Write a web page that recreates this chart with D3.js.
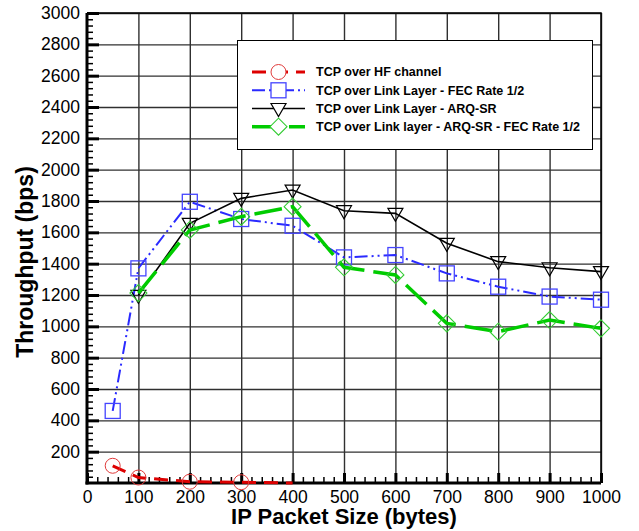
<!DOCTYPE html>
<html><head><meta charset="utf-8">
<script src="https://cdn.jsdelivr.net/npm/d3@7"></script>
<style>body{margin:0;background:#fff}svg{display:block}</style>
</head><body>
<script>
// ---- data ----
const xTickValues = [0,100,200,300,400,500,600,700,800,900,1000];
const yTickValues = [200,400,600,800,1000,1200,1400,1600,1800,2000,2200,2400,2600,2800,3000];
const seriesNames = ["TCP over HF channel","TCP over Link Layer - FEC Rate 1/2","TCP over Link Layer -  ARQ-SR","TCP over Link layer - ARQ-SR - FEC Rate 1/2"];
const hfX = [50,100,200,300,400];
const hfY = [110,35,8,5,0];
const fecX = [50,100,200,300,400,500,600,700,800,900,1000];
const fecY = [460,1370,1795,1685,1642,1440,1455,1338,1253,1190,1170];
const arqX = [100,200,300,400,500,600,700,800,900,1000];
const arqY = [1198,1657,1817,1870,1738,1721,1530,1413,1374,1349];
const arqFecX = [100,200,300,400,500,600,700,800,900,1000];
const arqFecY = [1212,1615,1700,1764,1377,1328,1019,966,1040,987];

const W = 639, H = 531;
const L = 87, R = 601, T = 13, B = 483;
const FONT = "'Liberation Sans', Arial, sans-serif";
const fmt = d3.format("d");

const svg = d3.select("body").append("svg").attr("width", W).attr("height", H)
  .style("font-family", FONT);

const x = d3.scaleLinear().domain([0,1000]).range([L,R]);
const y = d3.scaleLinear().domain([0,3000]).range([B,T]);

// grid
const gx = svg.append("g").attr("transform",`translate(0,${B})`)
  .call(d3.axisBottom(x).tickValues(xTickValues.filter(v=>v>0)).tickSize(-(B-T)).tickFormat(""));
gx.select(".domain").remove();
gx.selectAll(".tick line").attr("stroke","#303030").attr("stroke-width",1.4);
const gy = svg.append("g").attr("transform",`translate(${L},0)`)
  .call(d3.axisLeft(y).tickValues(yTickValues).tickSize(-(R-L)).tickFormat(""));
gy.select(".domain").remove();
gy.selectAll(".tick line").attr("stroke","#303030").attr("stroke-width",1.4);

// frame top/right
svg.append("path").attr("d",`M${L},${T}H${R}V${B}`).attr("fill","none")
  .attr("stroke","#000").attr("stroke-width",1.5);

// minor ticks
const minorX = d3.range(0,1001,20).filter(v=>v%100!==0);
const minorY = d3.range(0,3001,40).filter(v=>v%200!==0);
const mx = svg.append("g").attr("transform",`translate(0,${B})`)
  .call(d3.axisBottom(x).tickValues(minorX).tickSize(-6).tickFormat(""));
mx.select(".domain").remove();
mx.selectAll(".tick line").attr("stroke","#000").attr("stroke-width",1.5);
const my = svg.append("g").attr("transform",`translate(${L},0)`)
  .call(d3.axisLeft(y).tickValues(minorY).tickSize(-6).tickFormat(""));
my.select(".domain").remove();
my.selectAll(".tick line").attr("stroke","#000").attr("stroke-width",1.5);

// major axes
const ax = svg.append("g").attr("transform",`translate(0,${B})`)
  .call(d3.axisBottom(x).tickValues(xTickValues).tickFormat(fmt).tickSizeInner(-10).tickSizeOuter(0).tickPadding(7));
ax.select(".domain").remove();
ax.selectAll(".tick line").attr("stroke","#000").attr("stroke-width",3);
ax.selectAll(".tick text").attr("font-size","17.5px").attr("fill","#000").attr("y",null).attr("dy",null)
  .attr("transform","translate(0,20)");
const ay = svg.append("g").attr("transform",`translate(${L},0)`)
  .call(d3.axisLeft(y).tickValues(yTickValues).tickFormat(fmt).tickSizeInner(-12).tickSizeOuter(0).tickPadding(7));
ay.select(".domain").remove();
ay.selectAll(".tick line").attr("stroke","#000").attr("stroke-width",3);
ay.selectAll(".tick text").attr("font-size","17.5px").attr("fill","#000");

svg.append("line").attr("x1",L).attr("x2",L).attr("y1",T).attr("y2",B+1.5)
  .attr("stroke","#000").attr("stroke-width",3);
svg.append("line").attr("x1",L-1.5).attr("x2",R).attr("y1",B).attr("y2",B)
  .attr("stroke","#000").attr("stroke-width",3);

// axis titles
svg.append("text").attr("x",(L+R)/2).attr("y",524).attr("text-anchor","middle")
  .attr("font-size","22px").attr("font-weight","bold").text("IP Packet Size (bytes)");
svg.append("text").attr("transform","translate(33,262) rotate(-90)").attr("text-anchor","middle")
  .attr("font-size","23px").attr("font-weight","bold").text("Throughput (bps)");

// series
const styles = [
  {xs:hfX, ys:hfY, line:"#dd0000", lw:3, dash:"14,8", mk:"circle", mc:"#e03a3a", mw:1},
  {xs:fecX, ys:fecY, line:"#2a2aff", lw:2, dash:"13,4,2,4,2,4", mk:"square", mc:"#4444ff", mw:1.3},
  {xs:arqX, ys:arqY, line:"#000", lw:1.6, dash:null, mk:"triangle", mc:"#000", mw:1.2},
  {xs:arqFecX, ys:arqFecY, line:"#00cc00", lw:3.5, dash:"28,9", mk:"diamond", mc:"#33cc33", mw:1.1}
];
function marker(g, type, cx, cy, color, w, fill){
  let p;
  if(type==="circle") p = g.append("circle").attr("cx",cx).attr("cy",cy).attr("r",7.5);
  else if(type==="square") p = g.append("rect").attr("x",cx-7.5).attr("y",cy-7.5).attr("width",15).attr("height",15);
  else if(type==="triangle") p = g.append("path").attr("d",`M${cx-7.5},${cy-5}L${cx+7.5},${cy-5}L${cx},${cy+8}Z`);
  else p = g.append("path").attr("d",`M${cx},${cy-8.5}L${cx+8.5},${cy}L${cx},${cy+8.5}L${cx-8.5},${cy}Z`);
  p.attr("fill",fill).attr("stroke",color).attr("stroke-width",w);
}
const lineGen = d3.line().x(d=>x(d[0])).y(d=>y(d[1]));
styles.forEach(s=>{
  const pts = s.xs.map((v,i)=>[v,s.ys[i]]);
  const g = svg.append("g");
  g.append("path").datum(pts).attr("d",lineGen).attr("fill","none")
    .attr("stroke",s.line).attr("stroke-width",s.lw).attr("stroke-dasharray",s.dash);
  pts.forEach(p=>{ if(p[1]>0) marker(g, s.mk, x(p[0]), y(p[1]), s.mc, s.mw, "none"); });
});

// legend
const lg = svg.append("g");
lg.append("rect").attr("x",237.5).attr("y",40.5).attr("width",355).attr("height",109)
  .attr("fill","#fff").attr("stroke","#000").attr("stroke-width",1);
const rowY = [72,90.3,108.5,126.7];
styles.forEach((s,i)=>{
  const yy = rowY[i];
  lg.append("line").attr("x1",252).attr("x2",305).attr("y1",yy).attr("y2",yy)
    .attr("stroke",s.line).attr("stroke-width",s.lw).attr("stroke-dasharray",s.dash);
  marker(lg, s.mk, 278.5, yy, s.mc, s.mw, "#fff");
  lg.append("text").attr("x",316).attr("y",yy).attr("dy","0.35em")
    .attr("font-size","12.5px").attr("font-weight","bold").text(seriesNames[i]);
});
</script>
</body></html>
